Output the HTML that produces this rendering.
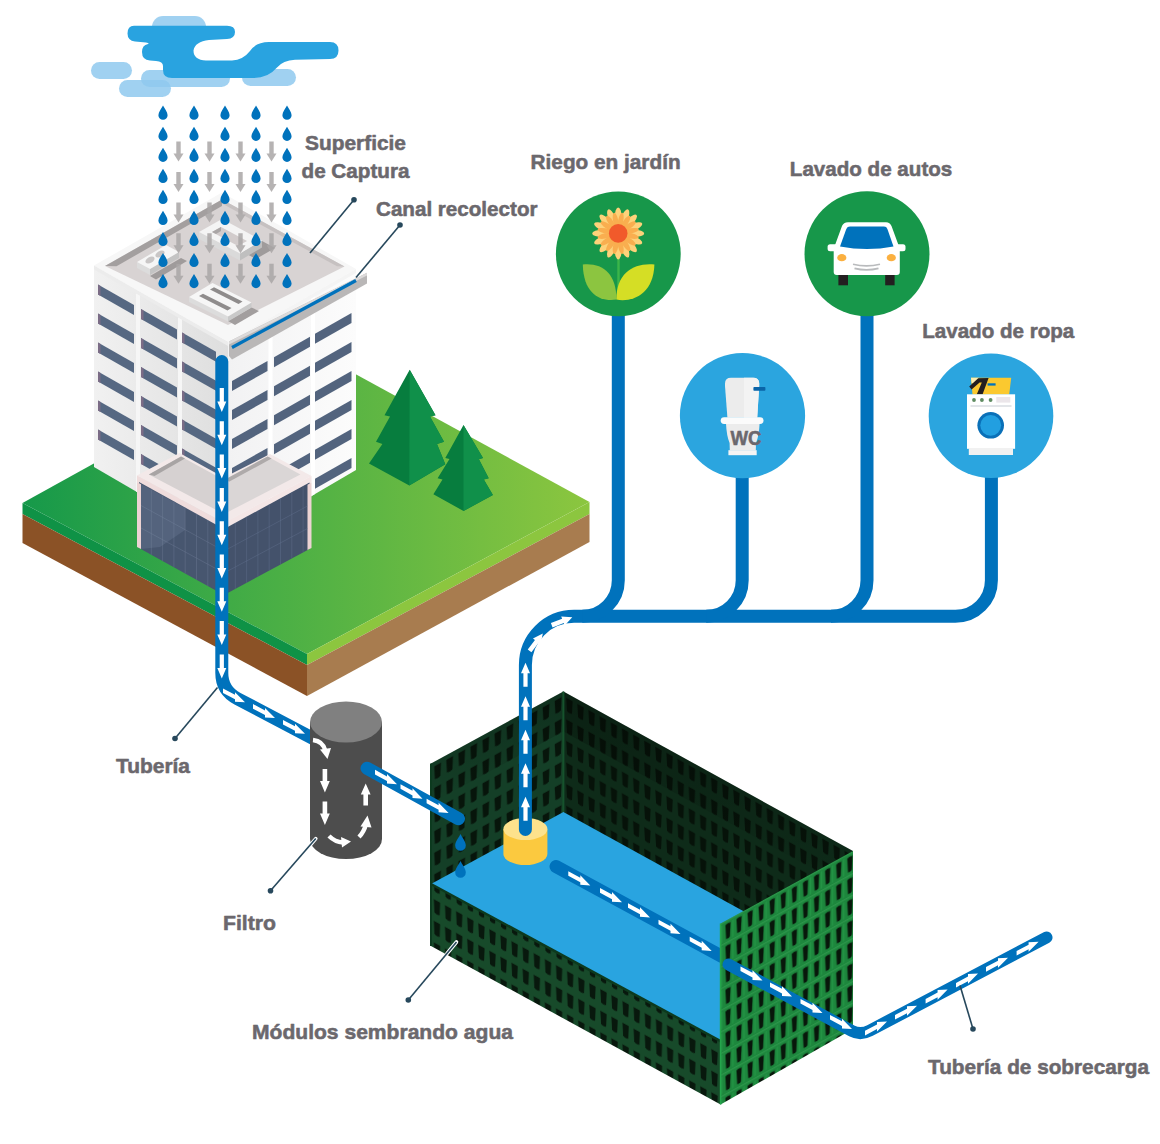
<!DOCTYPE html>
<html lang="es"><head><meta charset="utf-8"><title>Sistema de captación de agua de lluvia</title>
<style>
html,body{margin:0;padding:0;background:#fff}
body{width:1160px;height:1144px;overflow:hidden}
svg{display:block}
text{font-family:"Liberation Sans",sans-serif;font-weight:bold;font-size:21px;fill:#6b686d;stroke:#6b686d;stroke-width:0.55px;stroke-linejoin:round}
</style></head><body>
<svg width="1160" height="1144" viewBox="0 0 1160 1144">
<defs>
<linearGradient id="gGrass" x1="0" y1="0" x2="1" y2="0"><stop offset="0" stop-color="#16994a"/><stop offset="0.45" stop-color="#4aaf45"/><stop offset="1" stop-color="#8cc63f"/></linearGradient>
<linearGradient id="gWallL" x1="0" y1="0" x2="1" y2="0"><stop offset="0" stop-color="#f1f1f1"/><stop offset="1" stop-color="#dedede"/></linearGradient>
<linearGradient id="gWallR" x1="0" y1="0" x2="1" y2="0"><stop offset="0" stop-color="#f2f2f3"/><stop offset="1" stop-color="#fcfcfc"/></linearGradient>
<g id="drop"><path d="M0,-7 C1.5,-4 4.6,-0.5 4.6,2.6 A4.6,4.6 0 0 1 -4.6,2.6 C-4.6,-0.5 -1.5,-4 0,-7Z" fill="#0072bc"/></g>
<g id="garr"><path d="M-2.2,-10 H2.2 V2 H5 L0,10 L-5,2 H-2.2Z" fill="#a9a6a6" fill-opacity="0.85"/></g>
<g id="arr"><path d="M-12,-2.1 H1.5 V-4.5 L12,0 L1.5,4.5 V2.1 H-12Z" fill="#fff"/></g>
<g id="arrk"><path d="M-11,-2.3 H1 V-4.8 L11,0 L1,4.8 V2.3 H-11Z" fill="#fff"/></g>
<g id="arrs"><path d="M-9,-2.2 H1 V-4.6 L9,0 L1,4.6 V2.2 H-9Z" fill="#fff"/></g>
<clipPath id="cWL"><polygon points="94,269 228,342 228,545 94,467"/></clipPath>
<clipPath id="cWR"><polygon points="228,342 356,269 356,470 228,545"/></clipPath>
<!-- tank grid patterns -->
<pattern id="pOutR" width="11.08" height="21.6" patternUnits="userSpaceOnUse" patternTransform="matrix(1,-0.546,0,1,720.6,923.5)">
  <rect width="11.08" height="21.6" fill="#1d873d"/>
  <rect x="0" y="0.2" width="11.08" height="1.1" fill="#3da65a" fill-opacity="0.55"/>
  <rect x="0.6" y="3" width="1.3" height="17" fill="#2aa14d" fill-opacity="0.5"/>
  <path d="M4.2,4 Q7.3,2.4 10.4,4 L9.7,18.4 Q7.3,20.6 5,18.4Z" fill="#14602b"/>
  <path d="M5,4.6 Q7.3,3.4 9.7,4.6 L9.1,17.8 Q7.3,19.6 5.7,17.8Z" fill="#08170b"/>
</pattern>
<pattern id="pOutL" width="11.1" height="21.6" patternUnits="userSpaceOnUse" patternTransform="matrix(1,0.54,0,1,431,763.4)">
  <rect width="11.1" height="21.6" fill="#174a2a"/>
  <path d="M2.8,4.6 H9.2 L8.6,17.6 Q6,19 3.5,17.6Z" fill="#08180d"/>
</pattern>
<pattern id="pInL" width="12.04" height="21.6" patternUnits="userSpaceOnUse" patternTransform="matrix(1,-0.543,0,1,431,763.4)">
  <rect width="12.04" height="21.6" fill="#143f27"/>
  <path d="M3.2,4.6 H10 L9.4,17.6 Q6.7,19 3.9,17.6Z" fill="#07150b"/>
</pattern>
<pattern id="pInR" width="11.14" height="21.6" patternUnits="userSpaceOnUse" patternTransform="matrix(1,0.55,0,1,563.4,691.5)">
  <rect width="11.14" height="21.6" fill="#0e2b19"/>
  <path d="M2.8,4.6 H9.2 L8.6,17.6 Q6,19 3.5,17.6Z" fill="#061209"/>
</pattern>
<linearGradient id="gShadeIn" x1="0" y1="0" x2="0" y2="1"><stop offset="0" stop-color="#000" stop-opacity="0.25"/><stop offset="1" stop-color="#000" stop-opacity="0"/></linearGradient>
</defs>
<rect width="1160" height="1144" fill="#fff"/>

<g id="ground">
<polygon points="22.5,503.0 305.0,346.5 589.5,502.0 307.0,654.0" fill="url(#gGrass)" />
<polygon points="22.5,503.0 307.0,654.0 307.0,665.0 22.5,514.0" fill="#0f9246" />
<polygon points="22.5,514.0 307.0,665.0 307.0,696.0 22.5,543.0" fill="#8b5226" />
<polygon points="307.0,654.0 589.5,502.0 589.5,514.0 307.0,665.0" fill="#8cc63f" />
<polygon points="307.0,665.0 589.5,514.0 589.5,542.0 307.0,696.0" fill="#a87c4f" />
</g>
<g id="trees">
<polygon points="409.7,369.8 384.5,415.2 390.0,416.6 376.0,441.8 382.4,444.0 369.0,463.5 409.3,485.4 445.3,464.2 437.0,444.0 444.0,441.8 430.0,416.6 435.5,415.2" fill="#077d3e" />
<polygon points="409.7,369.8 435.5,415.2 430.0,416.6 444.0,441.8 437.0,444.0 445.3,464.2 409.3,485.4" fill="#10904a" />
<polygon points="463.5,425.0 445.3,457.9 449.5,459.0 437.6,478.2 442.5,479.6 433.4,494.3 463.5,511.0 492.9,495.0 483.8,479.6 488.7,478.2 478.9,459.3 483.0,457.9" fill="#077d3e" />
<polygon points="463.5,425.0 483.0,457.9 478.9,459.3 488.7,478.2 483.8,479.6 492.9,495.0 463.5,511.0" fill="#10904a" />
</g>
<g id="building">
<polygon points="94.0,269.0 228.0,342.0 228.0,545.0 94.0,467.0" fill="url(#gWallL)" />
<polygon points="228.0,342.0 356.0,269.0 356.0,470.0 228.0,545.0" fill="url(#gWallR)" />
<g clip-path="url(#cWL)">
<polygon points="136.0,292.9 140.0,295.2 140.0,505.2 136.0,502.9" fill="#f6f6f6" />
<polygon points="178.0,316.9 182.0,319.2 182.0,529.2 178.0,526.9" fill="#f6f6f6" />
<polygon points="98.0,284.5 134.0,305.0 134.0,315.0 98.0,294.5" fill="#566882" />
<polygon points="98.0,284.5 100.5,285.9 100.5,295.9 98.0,294.5" fill="#7b6c86" />
<polygon points="98.0,313.5 134.0,334.0 134.0,344.0 98.0,323.5" fill="#566882" />
<polygon points="98.0,313.5 100.5,314.9 100.5,324.9 98.0,323.5" fill="#7b6c86" />
<polygon points="98.0,342.5 134.0,363.0 134.0,373.0 98.0,352.5" fill="#566882" />
<polygon points="98.0,342.5 100.5,343.9 100.5,353.9 98.0,352.5" fill="#7b6c86" />
<polygon points="98.0,371.5 134.0,392.0 134.0,402.0 98.0,381.5" fill="#566882" />
<polygon points="98.0,371.5 100.5,372.9 100.5,382.9 98.0,381.5" fill="#7b6c86" />
<polygon points="98.0,400.5 134.0,421.0 134.0,431.0 98.0,410.5" fill="#566882" />
<polygon points="98.0,400.5 100.5,401.9 100.5,411.9 98.0,410.5" fill="#7b6c86" />
<polygon points="98.0,429.5 134.0,450.0 134.0,460.0 98.0,439.5" fill="#566882" />
<polygon points="98.0,429.5 100.5,430.9 100.5,440.9 98.0,439.5" fill="#7b6c86" />
<polygon points="141.0,309.0 177.0,329.5 177.0,339.5 141.0,319.0" fill="#566882" />
<polygon points="141.0,309.0 143.5,310.4 143.5,320.4 141.0,319.0" fill="#7b6c86" />
<polygon points="141.0,338.0 177.0,358.5 177.0,368.5 141.0,348.0" fill="#566882" />
<polygon points="141.0,338.0 143.5,339.4 143.5,349.4 141.0,348.0" fill="#7b6c86" />
<polygon points="141.0,367.0 177.0,387.5 177.0,397.5 141.0,377.0" fill="#566882" />
<polygon points="141.0,367.0 143.5,368.4 143.5,378.4 141.0,377.0" fill="#7b6c86" />
<polygon points="141.0,396.0 177.0,416.5 177.0,426.5 141.0,406.0" fill="#566882" />
<polygon points="141.0,396.0 143.5,397.4 143.5,407.4 141.0,406.0" fill="#7b6c86" />
<polygon points="141.0,425.0 177.0,445.5 177.0,455.5 141.0,435.0" fill="#566882" />
<polygon points="141.0,425.0 143.5,426.4 143.5,436.4 141.0,435.0" fill="#7b6c86" />
<polygon points="141.0,454.0 177.0,474.5 177.0,484.5 141.0,464.0" fill="#566882" />
<polygon points="141.0,454.0 143.5,455.4 143.5,465.4 141.0,464.0" fill="#7b6c86" />
<polygon points="182.0,332.4 216.0,351.8 216.0,361.8 182.0,342.4" fill="#566882" />
<polygon points="182.0,332.4 184.5,333.8 184.5,343.8 182.0,342.4" fill="#7b6c86" />
<polygon points="182.0,361.4 216.0,380.8 216.0,390.8 182.0,371.4" fill="#566882" />
<polygon points="182.0,361.4 184.5,362.8 184.5,372.8 182.0,371.4" fill="#7b6c86" />
<polygon points="182.0,390.4 216.0,409.8 216.0,419.8 182.0,400.4" fill="#566882" />
<polygon points="182.0,390.4 184.5,391.8 184.5,401.8 182.0,400.4" fill="#7b6c86" />
<polygon points="182.0,419.4 216.0,438.8 216.0,448.8 182.0,429.4" fill="#566882" />
<polygon points="182.0,419.4 184.5,420.8 184.5,430.8 182.0,429.4" fill="#7b6c86" />
<polygon points="182.0,448.4 216.0,467.8 216.0,477.8 182.0,458.4" fill="#566882" />
<polygon points="182.0,448.4 184.5,449.8 184.5,459.8 182.0,458.4" fill="#7b6c86" />
<polygon points="182.0,477.4 216.0,496.8 216.0,506.8 182.0,487.4" fill="#566882" />
<polygon points="182.0,477.4 184.5,478.8 184.5,488.8 182.0,487.4" fill="#7b6c86" />
</g><g clip-path="url(#cWR)">
<polygon points="268.5,318.9 272.5,316.6 272.5,526.6 268.5,528.9" fill="#ffffff" />
<polygon points="311.0,294.7 315.0,292.4 315.0,502.4 311.0,504.7" fill="#ffffff" />
<polygon points="232.0,381.1 267.5,360.9 267.5,370.9 232.0,391.1" fill="#53647e" />
<polygon points="232.0,410.1 267.5,389.9 267.5,399.9 232.0,420.1" fill="#53647e" />
<polygon points="232.0,439.1 267.5,418.9 267.5,428.9 232.0,449.1" fill="#53647e" />
<polygon points="232.0,468.1 267.5,447.9 267.5,457.9 232.0,478.1" fill="#53647e" />
<polygon points="232.0,497.1 267.5,476.9 267.5,486.9 232.0,507.1" fill="#53647e" />
<polygon points="232.0,526.1 267.5,505.9 267.5,515.9 232.0,536.1" fill="#53647e" />
<polygon points="274.0,357.2 310.0,336.7 310.0,346.7 274.0,367.2" fill="#53647e" />
<polygon points="274.0,386.2 310.0,365.7 310.0,375.7 274.0,396.2" fill="#53647e" />
<polygon points="274.0,415.2 310.0,394.7 310.0,404.7 274.0,425.2" fill="#53647e" />
<polygon points="274.0,444.2 310.0,423.7 310.0,433.7 274.0,454.2" fill="#53647e" />
<polygon points="274.0,473.2 310.0,452.7 310.0,462.7 274.0,483.2" fill="#53647e" />
<polygon points="274.0,502.2 310.0,481.7 310.0,491.7 274.0,512.2" fill="#53647e" />
<polygon points="315.0,333.8 351.5,313.0 351.5,323.0 315.0,343.8" fill="#53647e" />
<polygon points="315.0,362.8 351.5,342.0 351.5,352.0 315.0,372.8" fill="#53647e" />
<polygon points="315.0,391.8 351.5,371.0 351.5,381.0 315.0,401.8" fill="#53647e" />
<polygon points="315.0,420.8 351.5,400.0 351.5,410.0 315.0,430.8" fill="#53647e" />
<polygon points="315.0,449.8 351.5,429.0 351.5,439.0 315.0,459.8" fill="#53647e" />
<polygon points="315.0,478.8 351.5,458.0 351.5,468.0 315.0,488.8" fill="#53647e" />
</g>
<polygon points="94.0,265.5 222.0,192.5 356.0,269.0 228.0,342.0" fill="#f7f7f7" />
<polygon points="94.0,265.5 228.0,342.0 228.0,346.0 94.0,269.5" fill="#ececec" />
<polygon points="228.0,342.0 356.0,269.0 356.0,273.0 228.0,346.0" fill="#f4f4f4" />
<polygon points="105.0,266.0 222.0,199.5 344.5,266.5 228.0,325.0" fill="#d8d3d3" />
<polygon points="105.0,266.0 222.0,199.5 222.0,206.0 116.5,266.2" fill="#a39f9f" />
<polygon points="222.0,199.5 344.5,266.5 337.0,266.3 222.0,203.5" fill="#c6c1c1" />
<polygon points="228.0,321.0 251.5,307.5 259.0,311.0 235.0,325.0" fill="#a29e9e" />
<polygon points="189.0,297.0 228.0,316.5 228.0,321.5 189.0,302.0" fill="#dcdcdc" />
<polygon points="228.0,316.5 251.5,302.6 251.5,307.6 228.0,321.5" fill="#c9c9c9" />
<polygon points="189.0,297.0 212.5,283.0 251.5,302.6 228.0,316.5" fill="#f6f6f6" />
<polygon points="199.0,296.0 203.0,293.7 231.5,308.0 227.5,310.5" fill="#8f8c8c" />
<polygon points="210.0,289.5 214.0,287.2 242.5,301.5 238.5,304.0" fill="#8f8c8c" />
<polygon points="150.0,276.0 181.0,258.0 187.0,261.0 156.0,279.5" fill="#9f9b9b" />
<polygon points="137.0,262.0 150.0,269.0 150.0,275.0 137.0,268.0" fill="#dcdcdc" />
<polygon points="150.0,269.0 179.0,252.0 179.0,258.0 150.0,275.0" fill="#c4c4c4" />
<polygon points="137.0,262.0 166.0,245.0 179.0,252.0 150.0,269.0" fill="#f6f6f6" />
<ellipse cx="150" cy="260" rx="5" ry="3" fill="#c9c6c6" transform="rotate(-30 150 260)"/>
<ellipse cx="160" cy="254" rx="5" ry="3" fill="#c9c6c6" transform="rotate(-30 160 254)"/>
<polygon points="243.0,252.0 262.0,241.0 275.0,248.0 256.0,259.0" fill="#9f9b9b" />
<polygon points="199.0,232.0 240.0,253.5 240.0,260.5 199.0,239.0" fill="#dadada" />
<polygon points="240.0,253.5 262.0,240.5 262.0,247.5 240.0,260.5" fill="#bfbfbf" />
<polygon points="199.0,232.0 222.0,219.0 262.0,240.5 240.0,253.5" fill="#f4f4f4" />
<polygon points="212.0,232.0 221.0,227.0 247.0,241.0 238.0,246.0" fill="#d2cccc" />
<polygon points="212.0,232.0 221.0,227.0 221.0,231.0 216.0,234.0" fill="#aaa6a6" />
<polygon points="229.0,341.5 367.0,272.7 367.0,283.6 232.0,359.6 229.0,356.0" fill="#b9b7b7" />
<polygon points="229.0,341.5 367.0,272.7 367.0,275.5 229.0,344.5" fill="#dcdada" />
<path d="M232,347.5 L356,280.5" stroke="#0072bc" stroke-width="3.2" fill="none"/>
</g>
<g id="annex">
<polygon points="137.0,475.5 179.5,453.0 224.0,477.5 270.0,454.0 311.5,476.0 224.0,522.8" fill="#f3e9e9" />
<polygon points="137.0,475.5 224.0,522.8 224.0,529.0 137.0,482.0" fill="#efdcdc" />
<polygon points="224.0,522.8 311.5,476.0 311.5,482.5 224.0,529.0" fill="#f4e6e6" />
<polygon points="148.8,474.6 181.0,456.4 224.0,480.0 224.0,514.0" fill="#d6d1d1" />
<polygon points="224.0,480.0 267.6,456.4 300.4,474.4 224.0,514.0" fill="#dad6d6" />
<polygon points="148.8,474.6 181.0,456.4 185.0,458.6 154.5,476.0" fill="#a8a4a4" />
<polygon points="226.0,479.0 267.6,456.4 271.6,458.6 229.0,481.8" fill="#aeaaaa" />
<polygon points="139.0,482.0 224.0,529.0 224.0,595.0 139.0,548.0" fill="#47566f" />
<polygon points="224.0,529.0 309.5,482.5 309.5,549.0 224.0,595.0" fill="#44526b" />
<polygon points="137.0,482.0 141.0,484.2 141.0,549.0 137.0,547.0" fill="#ecd3d3" />
<polygon points="311.5,482.5 307.5,484.7 307.5,550.0 311.5,548.0" fill="#ecd3d3" />
<path d="M151.3,488.8V554.8M162.6,495.1V561.1M173.9,501.3V567.3M185.2,507.5V573.5M196.5,513.8V579.8M207.8,520.0V586.0M219.1,526.3V592.3M141,505.5L224,551.0M141,528.0L224,573.0" stroke="#6a7893" stroke-width="1" fill="none" opacity="0.45"/>
<path d="M235.3,522.9V588.9M246.6,516.7V582.8M257.9,510.6V576.8M269.2,504.4V570.7M280.5,498.3V564.6M291.8,492.1V558.5M303.1,486.0V552.4M224,551.0L307.5,506.0M224,573.0L307.5,528.5" stroke="#647290" stroke-width="1" fill="none" opacity="0.4"/>
<polygon points="141.0,484.0 185.0,508.0 185.0,530.0 160.0,547.0 141.0,549.0" fill="#8fa0bd" opacity="0.18"/>
</g>
<g id="pipes1">
<path d="M221.8,361.5 V673 Q221.8,690.5 237.5,698.7 L314,739" stroke="#0072bc" stroke-width="13" fill="none" stroke-linecap="round" stroke-linejoin="round"/>
<use href="#arr" transform="translate(221.8,400.0) rotate(90)"/>
<use href="#arr" transform="translate(221.8,433.3) rotate(90)"/>
<use href="#arr" transform="translate(221.8,466.6) rotate(90)"/>
<use href="#arr" transform="translate(221.8,499.9) rotate(90)"/>
<use href="#arr" transform="translate(221.8,533.2) rotate(90)"/>
<use href="#arr" transform="translate(221.8,566.5) rotate(90)"/>
<use href="#arr" transform="translate(221.8,599.8) rotate(90)"/>
<use href="#arr" transform="translate(221.8,633.1) rotate(90)"/>
<use href="#arr" transform="translate(221.8,666.4) rotate(90)"/>
<use href="#arrk" transform="matrix(1,0.528,0,1,234.0,696.5)"/>
<use href="#arrk" transform="matrix(1,0.528,0,1,264.0,712.2)"/>
<use href="#arrk" transform="matrix(1,0.528,0,1,294.0,728.0)"/>
</g>
<g id="filter">
<path d="M310,722 V839 A36,20 0 0 0 382,839 V722Z" fill="#4d4d4d"/>
<ellipse cx="346" cy="722" rx="36" ry="20.5" fill="#808080"/>
<path d="M313,740 Q323,741 325.5,751" stroke="#fff" stroke-width="4.4" fill="none"/><polygon points="320,749.5 331,748 327.5,759" fill="#fff"/>
<path d="M322.6,769 h4.6 v12 h2.6 l-4.9,11.5 l-4.9,-11.5 h2.6z" fill="#fff"/>
<path d="M322.6,801.6 h4.6 v12 h2.6 l-4.9,11.5 l-4.9,-11.5 h2.6z" fill="#fff"/>
<path d="M329,836 Q335,842 343,842.5" stroke="#fff" stroke-width="4.4" fill="none"/><polygon points="341,837 351,841.5 342,847.5" fill="#fff"/>
<path d="M359,837 Q364,832 366,824" stroke="#fff" stroke-width="4.4" fill="none"/><polygon points="360.5,826.5 367.5,815.5 371.5,827.5" fill="#fff"/>
<path d="M363.4,805.5 h4.6 v-11 h2.6 l-4.9,-11 l-4.9,11 h2.6z" fill="#fff"/>
</g>
<g id="tank">
<polygon points="431.0,763.4 563.4,691.5 563.4,814.1 431.0,886.0" fill="url(#pInL)" />
<polygon points="563.4,691.5 853.0,851.0 853.0,971.6 563.4,814.1" fill="url(#pInR)" />
<polygon points="431.0,763.4 563.4,691.5 563.4,731.5 431.0,803.4" fill="url(#gShadeIn)" />
<polygon points="563.4,691.5 853.0,851.0 853.0,891.0 563.4,731.5" fill="url(#gShadeIn)" />
<path d="M563.4,691.5 V812.1" stroke="#16532d" stroke-width="2"/>
<polygon points="431.0,884.0 563.4,812.1 853.0,971.6 720.6,1041.1" fill="#29a4e0" />
<polygon points="431.0,884.0 720.6,1041.1 720.6,1104.5 431.0,945.9" fill="url(#pOutL)" />
<path d="M431,884.0 L720.6,1041.1" stroke="#0d3a1e" stroke-width="2.5"/>
<path d="M556,866.5 L722,956.5" stroke="#0072bc" stroke-width="13" fill="none" stroke-linecap="round"/>
<use href="#arrk" transform="matrix(1,0.543,0,1,579.3,879.5)"/>
<use href="#arrk" transform="matrix(1,0.543,0,1,611.0,896.3)"/>
<use href="#arrk" transform="matrix(1,0.543,0,1,639.0,911.5)"/>
<use href="#arrk" transform="matrix(1,0.543,0,1,669.5,928.0)"/>
<use href="#arrk" transform="matrix(1,0.543,0,1,700.7,945.0)"/>
<polygon points="720.6,923.5 853.0,851.0 853.0,1029.0 720.6,1104.5" fill="url(#pOutR)" />
<path d="M720.6,923.5 V1104.5" stroke="#25a54c" stroke-width="1.6"/>
<path d="M431,763.4 V945.9" stroke="#0c3a1f" stroke-width="2"/>
<path d="M367,768.3 L458.5,818.7" stroke="#0072bc" stroke-width="13" fill="none" stroke-linecap="round"/>
<use href="#arrk" transform="matrix(1,0.55,0,1,386.0,778.2)"/>
<use href="#arrk" transform="matrix(1,0.55,0,1,411.5,792.6)"/>
<use href="#arrk" transform="matrix(1,0.55,0,1,437.6,807.0)"/>
<path d="M460.5,834 C462,837.5 465.8,841.5 465.8,845.5 A5.3,5.3 0 0 1 455.2,845.5 C455.2,841.5 459,837.5 460.5,834Z" fill="#0072bc"/>
<path d="M460.5,861 C462,864.5 465.8,868.5 465.8,872.5 A5.3,5.3 0 0 1 455.2,872.5 C455.2,868.5 459,864.5 460.5,861Z" fill="#0072bc"/>
<path d="M503.4,829 V854 A22,11 0 0 0 547.4,854 V829Z" fill="#fbc93f"/>
<ellipse cx="525.4" cy="829" rx="22" ry="11" fill="#fde28c"/>
</g>
<g id="manifold">
<path d="M525.4,829.5 V665 A48.7,48.7 0 0 1 574.1,616.3 H955.4 A36,36 0 0 0 991.4,580.3 V470" stroke="#0072bc" stroke-width="13" fill="none" stroke-linecap="round"/>
<path d="M618.3,300 V580.3 A36,36 0 0 1 582.3,616.3" stroke="#0072bc" stroke-width="13" fill="none"/>
<path d="M742.2,470 V580.3 A36,36 0 0 1 706.2,616.3" stroke="#0072bc" stroke-width="13" fill="none"/>
<path d="M867,300 V580.3 A36,36 0 0 1 831,616.3" stroke="#0072bc" stroke-width="13" fill="none"/>
<use href="#arr" transform="translate(525.5,674.8) rotate(-90)"/>
<use href="#arr" transform="translate(525.5,708.3) rotate(-90)"/>
<use href="#arr" transform="translate(525.5,741.8) rotate(-90)"/>
<use href="#arr" transform="translate(525.5,775.3) rotate(-90)"/>
<use href="#arr" transform="translate(525.5,808.8) rotate(-90)"/>
<use href="#arrk" transform="translate(536.2,642.2) rotate(-53)"/>
<use href="#arrk" transform="translate(562,621.3) rotate(-21)"/>
</g>
<g id="overflow">
<path d="M728.5,964.5 L852,1031 Q860.5,1035.5 870,1030.5 L1046.5,937.5" stroke="#0072bc" stroke-width="12" fill="none" stroke-linecap="round" stroke-linejoin="round"/>
<use href="#arrk" transform="matrix(1,0.538,0,1,751.5,974.6)"/>
<use href="#arrk" transform="matrix(1,0.538,0,1,781.0,990.6)"/>
<use href="#arrk" transform="matrix(1,0.538,0,1,811.5,1007.1)"/>
<use href="#arrk" transform="matrix(1,0.538,0,1,841.0,1023.1)"/>
<use href="#arrk" transform="matrix(1,-0.527,0,1,876.0,1027.3)"/>
<use href="#arrk" transform="matrix(1,-0.527,0,1,906.0,1011.5)"/>
<use href="#arrk" transform="matrix(1,-0.527,0,1,936.6,995.4)"/>
<use href="#arrk" transform="matrix(1,-0.527,0,1,967.0,979.4)"/>
<use href="#arrk" transform="matrix(1,-0.527,0,1,997.0,963.6)"/>
<use href="#arrk" transform="matrix(1,-0.527,0,1,1027.6,947.5)"/>
</g>
<g id="icons">
<circle cx="618.3" cy="253.8" r="62.4" fill="#17974a"/>
<circle cx="867" cy="253.8" r="62.5" fill="#17974a"/>
<circle cx="742.5" cy="415.7" r="62.6" fill="#2ba5df"/>
<circle cx="991" cy="415.8" r="62.3" fill="#2ba5df"/>
<path d="M617.3,240 h2.4 v58 h-2.4z" fill="#3bb54a"/>
<path d="M616.4,299.6 C600,302 583.5,294 582.8,264.5 C602,262.5 616.5,273 616.4,299.6Z" fill="#8cc540"/>
<path d="M616.4,299.6 C633,302.5 653.5,294 654.4,264.5 C634,262.5 616,273 616.4,299.6Z" fill="#d5de25"/>
<g transform="translate(618.2,233.4)" fill="#fdd27a"><ellipse cx="0" cy="-15.5" rx="3.6" ry="10.5" transform="rotate(0.0)"/><ellipse cx="0" cy="-15.5" rx="3.6" ry="10.5" transform="rotate(22.5)"/><ellipse cx="0" cy="-15.5" rx="3.6" ry="10.5" transform="rotate(45.0)"/><ellipse cx="0" cy="-15.5" rx="3.6" ry="10.5" transform="rotate(67.5)"/><ellipse cx="0" cy="-15.5" rx="3.6" ry="10.5" transform="rotate(90.0)"/><ellipse cx="0" cy="-15.5" rx="3.6" ry="10.5" transform="rotate(112.5)"/><ellipse cx="0" cy="-15.5" rx="3.6" ry="10.5" transform="rotate(135.0)"/><ellipse cx="0" cy="-15.5" rx="3.6" ry="10.5" transform="rotate(157.5)"/><ellipse cx="0" cy="-15.5" rx="3.6" ry="10.5" transform="rotate(180.0)"/><ellipse cx="0" cy="-15.5" rx="3.6" ry="10.5" transform="rotate(202.5)"/><ellipse cx="0" cy="-15.5" rx="3.6" ry="10.5" transform="rotate(225.0)"/><ellipse cx="0" cy="-15.5" rx="3.6" ry="10.5" transform="rotate(247.5)"/><ellipse cx="0" cy="-15.5" rx="3.6" ry="10.5" transform="rotate(270.0)"/><ellipse cx="0" cy="-15.5" rx="3.6" ry="10.5" transform="rotate(292.5)"/><ellipse cx="0" cy="-15.5" rx="3.6" ry="10.5" transform="rotate(315.0)"/><ellipse cx="0" cy="-15.5" rx="3.6" ry="10.5" transform="rotate(337.5)"/></g>
<g transform="translate(618.2,233.4)" fill="#f9ae4f"><ellipse cx="0" cy="-13" rx="2.6" ry="8" transform="rotate(11.2)"/><ellipse cx="0" cy="-13" rx="2.6" ry="8" transform="rotate(33.8)"/><ellipse cx="0" cy="-13" rx="2.6" ry="8" transform="rotate(56.2)"/><ellipse cx="0" cy="-13" rx="2.6" ry="8" transform="rotate(78.8)"/><ellipse cx="0" cy="-13" rx="2.6" ry="8" transform="rotate(101.2)"/><ellipse cx="0" cy="-13" rx="2.6" ry="8" transform="rotate(123.8)"/><ellipse cx="0" cy="-13" rx="2.6" ry="8" transform="rotate(146.2)"/><ellipse cx="0" cy="-13" rx="2.6" ry="8" transform="rotate(168.8)"/><ellipse cx="0" cy="-13" rx="2.6" ry="8" transform="rotate(191.2)"/><ellipse cx="0" cy="-13" rx="2.6" ry="8" transform="rotate(213.8)"/><ellipse cx="0" cy="-13" rx="2.6" ry="8" transform="rotate(236.2)"/><ellipse cx="0" cy="-13" rx="2.6" ry="8" transform="rotate(258.8)"/><ellipse cx="0" cy="-13" rx="2.6" ry="8" transform="rotate(281.2)"/><ellipse cx="0" cy="-13" rx="2.6" ry="8" transform="rotate(303.8)"/><ellipse cx="0" cy="-13" rx="2.6" ry="8" transform="rotate(326.2)"/><ellipse cx="0" cy="-13" rx="2.6" ry="8" transform="rotate(348.8)"/></g>
<circle cx="618.2" cy="233.4" r="9.3" fill="#f15a2b"/>
<path d="M848,222.2 H886 Q890,222.2 891.5,226 L899,246.5 Q899.8,248 899.8,250 V272 Q899.8,275 896.8,275 H836.7 Q833.7,275 833.7,272 V250 Q833.7,248 834.5,246.5 L842,226 Q843.5,222.2 848,222.2Z" fill="#fff"/>
<rect x="827.6" y="244.2" width="11" height="7" rx="2.5" fill="#fff"/><rect x="895" y="244.2" width="10.5" height="7" rx="2.5" fill="#fff"/>
<path d="M850,226.6 H884 Q886.5,226.6 887.4,229 L893.5,246.5 Q867,251.5 840,246.5 L846.3,229 Q847.2,226.6 850,226.6Z" fill="#0072bc"/>
<rect x="838.4" y="275" width="9.6" height="10.3" fill="#231f20"/><rect x="885.2" y="275" width="9.4" height="10.3" fill="#231f20"/>
<ellipse cx="841.8" cy="257.7" rx="4.6" ry="3.6" fill="#fbb040"/><ellipse cx="891.3" cy="257.7" rx="4.6" ry="3.6" fill="#fbb040"/>
<path d="M853,264.2 Q866.5,267.6 880,264.2 M854.5,268.4 Q866.5,271.4 878.5,268.4" stroke="#b9bbbd" stroke-width="1.7" fill="none"/>
<path d="M727.4,417.5 L725,386 V383.5 Q725,377.8 731,377.8 H753.2 Q759.2,377.8 759.2,383.5 V386 L757.2,417.5Z" fill="#ececec"/>
<path d="M744,377.8 H753.2 Q759.2,377.8 759.2,383.5 V386 L757.2,417.5 H744Z" fill="#f3f3f3"/>
<rect x="753.4" y="387" width="12" height="3.8" rx="0.8" fill="#0a64a8"/>
<path d="M726,423.5 H759.6 Q759,436 756,443 L755.8,450.4 H729.8 L729.6,443 Q726.6,436 726,423.5Z" fill="#ececec"/>
<rect x="720.7" y="417.2" width="42.8" height="6.8" rx="3.4" fill="#fbfbfb"/>
<rect x="728.4" y="450.2" width="28.3" height="5" fill="#f4f4f4"/>
<polygon points="971,377.7 1011.2,377.7 1009.2,394.6 972.5,394.6" fill="#fbc92f"/>
<polygon points="971,377.7 979,377.7 975,383 971.6,383" fill="#fdeeb0"/>
<path d="M969.2,386.6 L978.2,378.2 L988.6,378 L982.6,394.2 L976.8,394.2 L981.8,382.6 L979.6,382.6 L971.6,389.6Z" fill="#231f20"/>
<rect x="987.6" y="383.3" width="8" height="2.3" fill="#0072bc"/>
<rect x="967" y="394.3" width="48.1" height="54.5" fill="#fff"/>
<rect x="968.8" y="448" width="44.2" height="7" fill="#f1f1f1"/>
<path d="M970.5,406 H1011.5" stroke="#c5cbd2" stroke-width="1"/>
<circle cx="974" cy="400" r="1.9" fill="#5f8c61"/><circle cx="981.9" cy="400" r="1.9" fill="#5f8c61"/><circle cx="990.6" cy="400" r="1.9" fill="#5f8c61"/>
<rect x="996.3" y="397" width="14" height="5.6" fill="#ebe6ea"/>
<circle cx="990.7" cy="425.3" r="13.3" fill="#0a70b8"/><circle cx="990.7" cy="425.3" r="10.4" fill="#229fe0"/>
</g>
<g id="cloud">
<rect x="152" y="16" width="54" height="22" rx="11.0" fill="#8fc9ee" fill-opacity="0.85"/>
<rect x="91" y="62" width="41" height="17" rx="8.5" fill="#8fc9ee" fill-opacity="0.85"/>
<rect x="119" y="80" width="52" height="17" rx="8.5" fill="#8fc9ee" fill-opacity="0.85"/>
<rect x="141" y="70" width="89" height="17" rx="8.5" fill="#8fc9ee" fill-opacity="0.85"/>
<rect x="242" y="69" width="54" height="17" rx="8.5" fill="#8fc9ee" fill-opacity="0.85"/>
<path d="M134,25.8 H227 Q235,25.8 235,32 Q235,38.5 227,39 L209,40 Q195,41.5 193.5,50.5 Q193.5,60 206,60.5 H232 Q243,60 250,51 Q256,42 269,42 H330 Q338.5,42 338.5,50.5 Q338.5,59 330,59 L295,59.8 Q283,60.5 277,67.5 Q268,78 254,78 H172 Q163,78 163,70 V66 Q163,61.5 156,61 L150,60.5 Q142,60 142,52 Q142,45 148,44 Q150,43.5 146,42.5 L135,41.5 Q127.5,40.5 127.5,33.5 Q127.5,25.8 134,25.8Z" fill="#29a3e0"/>
</g>
<g id="rain">
<use href="#garr" x="178.5" y="151.4"/>
<use href="#garr" x="178.5" y="182.0"/>
<use href="#garr" x="178.5" y="212.6"/>
<use href="#garr" x="178.5" y="243.2"/>
<use href="#garr" x="178.5" y="273.8"/>
<use href="#garr" x="209.5" y="151.4"/>
<use href="#garr" x="209.5" y="182.0"/>
<use href="#garr" x="209.5" y="212.6"/>
<use href="#garr" x="209.5" y="243.2"/>
<use href="#garr" x="209.5" y="273.8"/>
<use href="#garr" x="240.5" y="151.4"/>
<use href="#garr" x="240.5" y="182.0"/>
<use href="#garr" x="240.5" y="212.6"/>
<use href="#garr" x="240.5" y="243.2"/>
<use href="#garr" x="240.5" y="273.8"/>
<use href="#garr" x="271.5" y="151.4"/>
<use href="#garr" x="271.5" y="182.0"/>
<use href="#garr" x="271.5" y="212.6"/>
<use href="#garr" x="271.5" y="243.2"/>
<use href="#garr" x="271.5" y="273.8"/>
<use href="#drop" x="163" y="112.6"/>
<use href="#drop" x="163" y="133.7"/>
<use href="#drop" x="163" y="154.7"/>
<use href="#drop" x="163" y="175.8"/>
<use href="#drop" x="163" y="196.8"/>
<use href="#drop" x="163" y="217.8"/>
<use href="#drop" x="163" y="238.9"/>
<use href="#drop" x="163" y="259.9"/>
<use href="#drop" x="163" y="281.0"/>
<use href="#drop" x="194" y="112.6"/>
<use href="#drop" x="194" y="133.7"/>
<use href="#drop" x="194" y="154.7"/>
<use href="#drop" x="194" y="175.8"/>
<use href="#drop" x="194" y="196.8"/>
<use href="#drop" x="194" y="217.8"/>
<use href="#drop" x="194" y="238.9"/>
<use href="#drop" x="194" y="259.9"/>
<use href="#drop" x="194" y="281.0"/>
<use href="#drop" x="225" y="112.6"/>
<use href="#drop" x="225" y="133.7"/>
<use href="#drop" x="225" y="154.7"/>
<use href="#drop" x="225" y="175.8"/>
<use href="#drop" x="225" y="196.8"/>
<use href="#drop" x="225" y="217.8"/>
<use href="#drop" x="225" y="238.9"/>
<use href="#drop" x="225" y="259.9"/>
<use href="#drop" x="225" y="281.0"/>
<use href="#drop" x="256" y="112.6"/>
<use href="#drop" x="256" y="133.7"/>
<use href="#drop" x="256" y="154.7"/>
<use href="#drop" x="256" y="175.8"/>
<use href="#drop" x="256" y="196.8"/>
<use href="#drop" x="256" y="217.8"/>
<use href="#drop" x="256" y="238.9"/>
<use href="#drop" x="256" y="259.9"/>
<use href="#drop" x="256" y="281.0"/>
<use href="#drop" x="287" y="112.6"/>
<use href="#drop" x="287" y="133.7"/>
<use href="#drop" x="287" y="154.7"/>
<use href="#drop" x="287" y="175.8"/>
<use href="#drop" x="287" y="196.8"/>
<use href="#drop" x="287" y="217.8"/>
<use href="#drop" x="287" y="238.9"/>
<use href="#drop" x="287" y="259.9"/>
<use href="#drop" x="287" y="281.0"/>
</g>
<g id="leaders" stroke="#27485c" stroke-width="1.6" fill="#27485c">
<path d="M354,199.8 L310,253" fill="none"/><circle cx="354" cy="199.8" r="2.8" stroke="none"/>
<path d="M400,225 L356,277.5" fill="none"/><circle cx="400" cy="225" r="2.8" stroke="none"/>
<path d="M175,738.5 L217.5,687.5" fill="none"/><circle cx="175" cy="738.5" r="2.8" stroke="none"/>
<path d="M315.8,838.6 L309,846.5" stroke="#fff" stroke-width="3.6" stroke-linecap="round" fill="none"/>
<path d="M270.5,890.8 L315.8,838.6" fill="none"/><circle cx="270.5" cy="890.8" r="2.8" stroke="none"/>
<path d="M456.5,942 L447,953.5" stroke="#fff" stroke-width="3.6" stroke-linecap="round" fill="none"/>
<path d="M408.3,1000 L456.5,942" fill="none"/><circle cx="408.3" cy="1000" r="2.8" stroke="none"/>
<path d="M973,1029 L960,985.5" fill="none"/><circle cx="973" cy="1029" r="2.8" stroke="none"/>
</g>
<g id="labels">
<text x="305" y="150.2" textLength="101" lengthAdjust="spacingAndGlyphs" text-anchor="start">Superficie</text>
<text x="301.5" y="177.8" textLength="108" lengthAdjust="spacingAndGlyphs" text-anchor="start">de Captura</text>
<text x="376" y="216" textLength="161.5" lengthAdjust="spacingAndGlyphs" text-anchor="start">Canal recolector</text>
<text x="530.6" y="168.5" textLength="150" lengthAdjust="spacingAndGlyphs" text-anchor="start">Riego en jardín</text>
<text x="789.8" y="176.2" textLength="162.5" lengthAdjust="spacingAndGlyphs" text-anchor="start">Lavado de autos</text>
<text x="922.2" y="337.9" textLength="152.1" lengthAdjust="spacingAndGlyphs" text-anchor="start">Lavado de ropa</text>
<text x="730.5" y="445.3" textLength="31" lengthAdjust="spacingAndGlyphs" text-anchor="start">WC</text>
<text x="116" y="772.5" textLength="74" lengthAdjust="spacingAndGlyphs" text-anchor="start">Tubería</text>
<text x="223" y="930" textLength="53" lengthAdjust="spacingAndGlyphs" text-anchor="start">Filtro</text>
<text x="252" y="1039" textLength="261" lengthAdjust="spacingAndGlyphs" text-anchor="start">Módulos sembrando agua</text>
<text x="928" y="1073.8" textLength="221" lengthAdjust="spacingAndGlyphs" text-anchor="start">Tubería de sobrecarga</text>
</g>
</svg></body></html>
